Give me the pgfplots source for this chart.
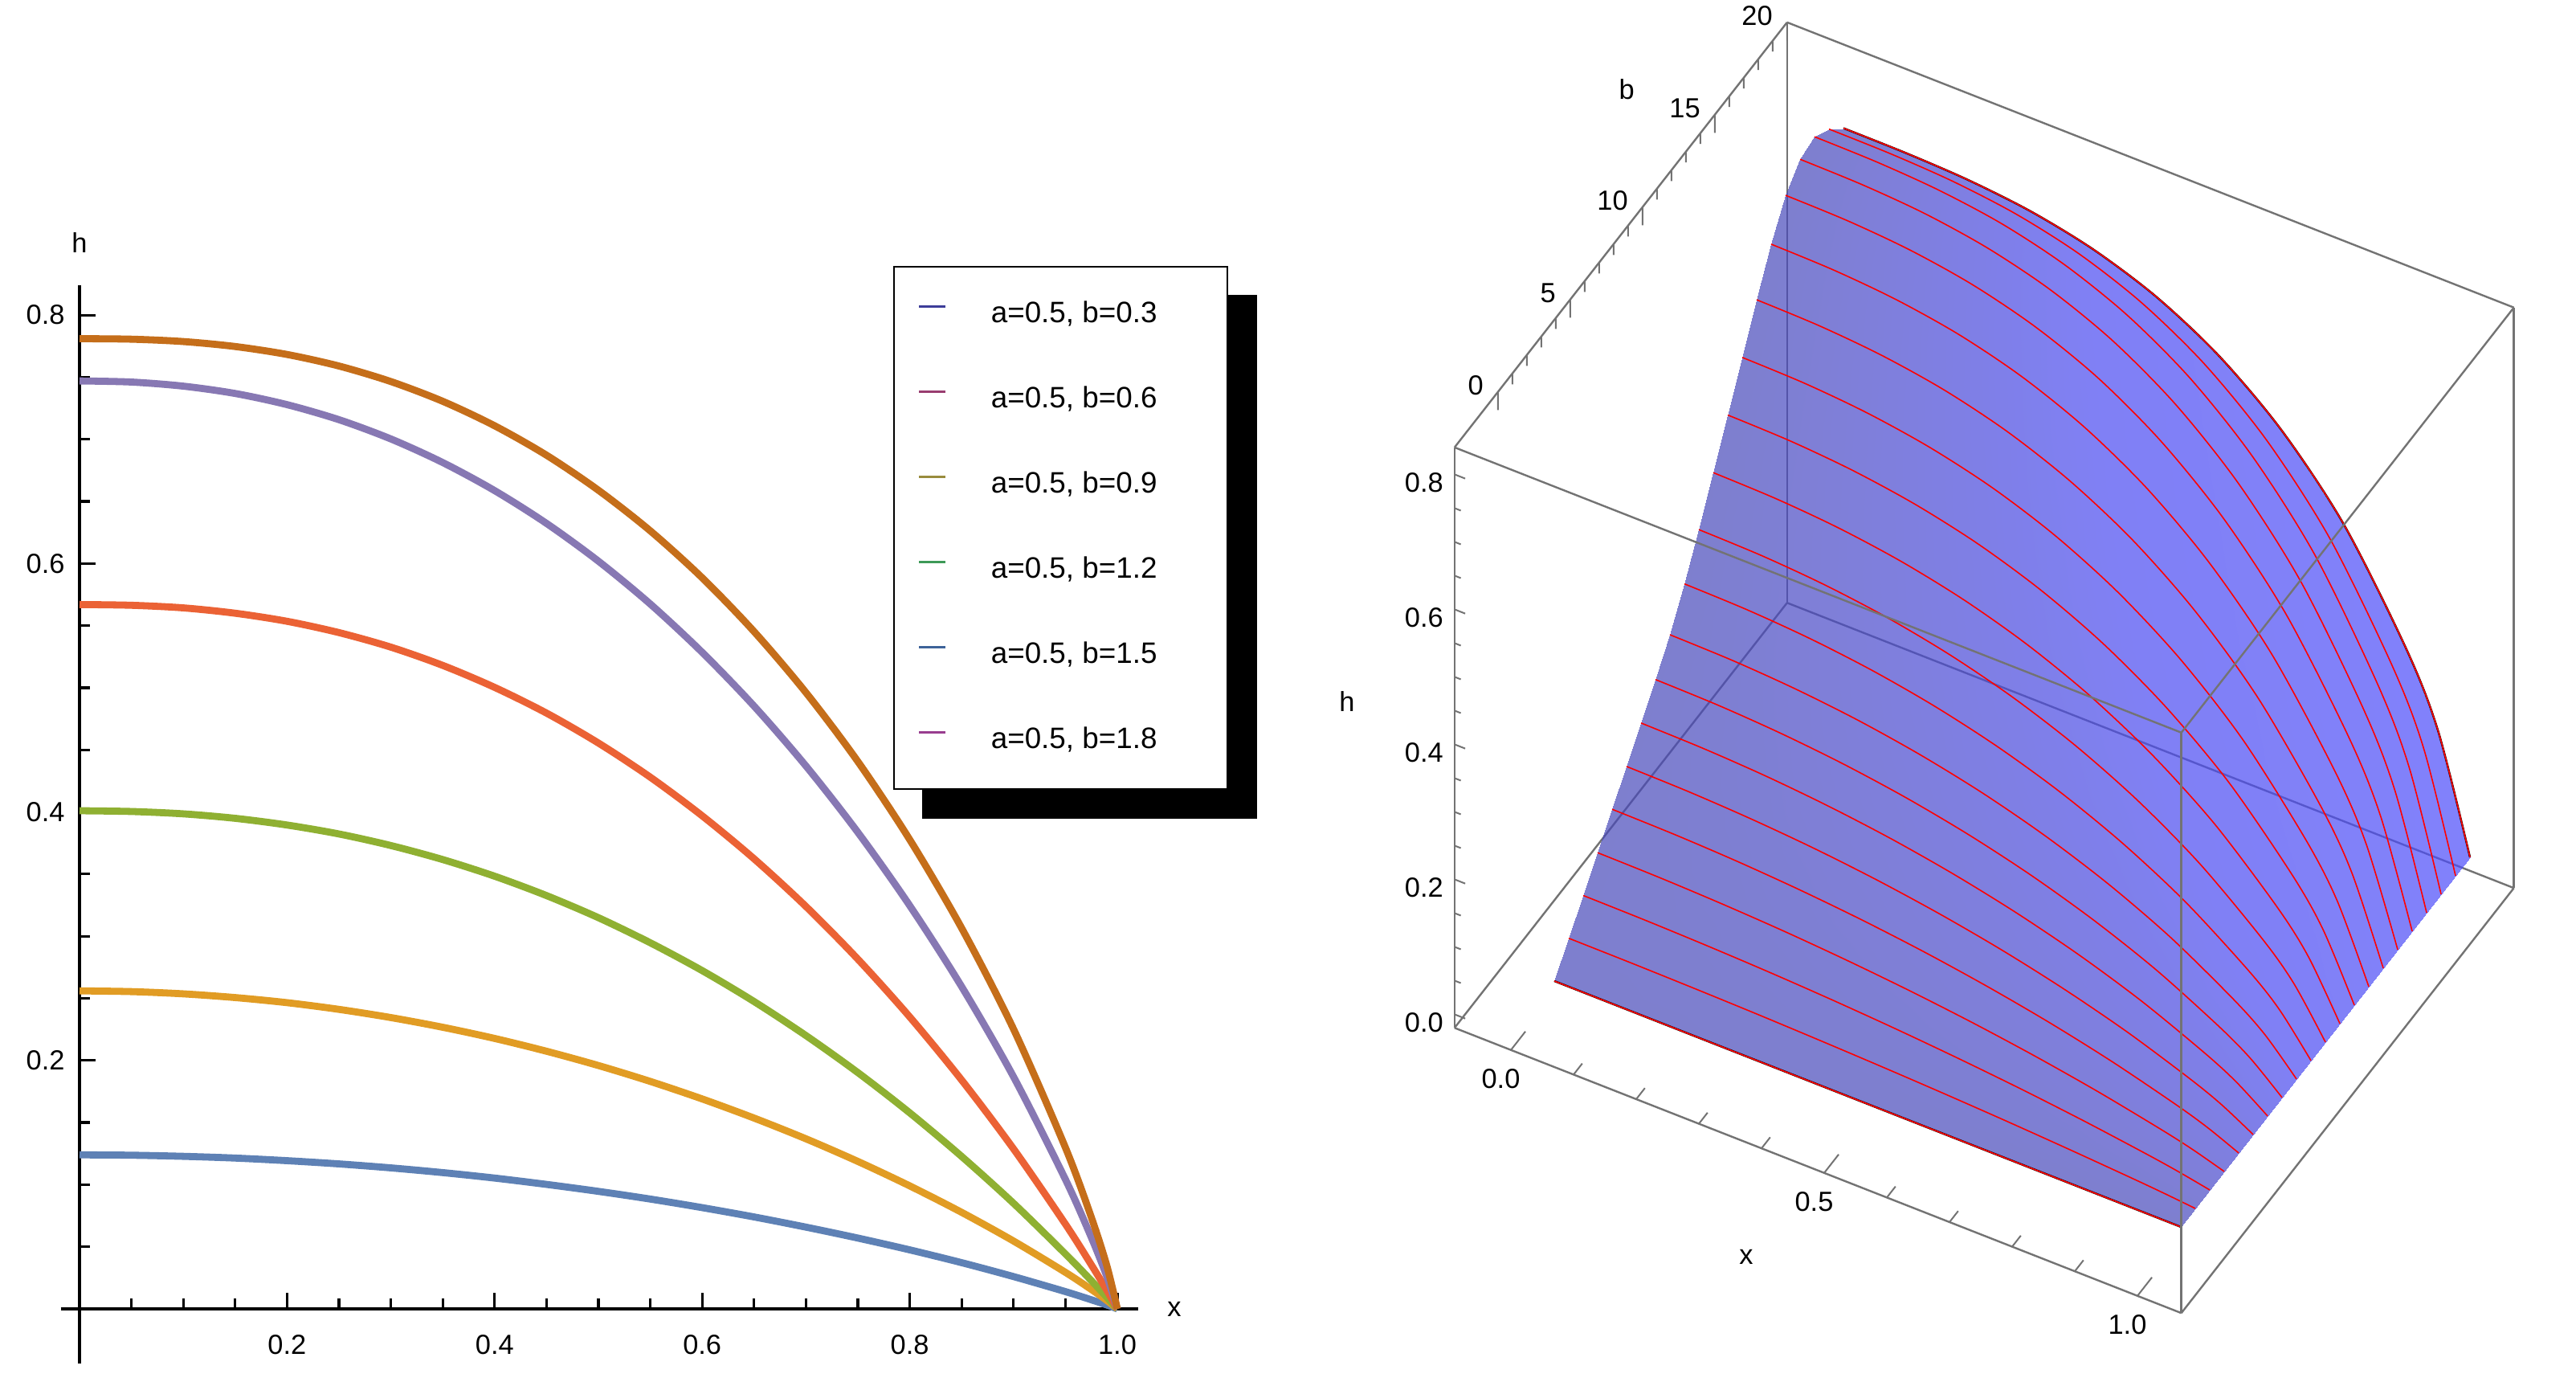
\documentclass[border=0pt]{standalone}
\usepackage{fontspec}
\setmainfont{Liberation Sans}
\usepackage{pgfplots}
\pgfplotsset{compat=1.18}
\usepackage{pgfplotstable}
\pgfdeclarelayer{background}
\pgfsetlayers{background,main}

\definecolor{m1}{rgb}{0.368417,0.506779,0.709798}
\definecolor{m2}{rgb}{0.880722,0.611041,0.142051}
\definecolor{m3}{rgb}{0.560181,0.691569,0.194885}
\definecolor{m4}{rgb}{0.922526,0.385626,0.209179}
\definecolor{m5}{rgb}{0.528488,0.470624,0.701351}
\definecolor{m6}{rgb}{0.772079,0.431554,0.102387}
\definecolor{l1}{rgb}{0.24,0.24,0.6}
\definecolor{l2}{rgb}{0.6,0.24,0.44}
\definecolor{l3}{rgb}{0.6,0.55,0.24}
\definecolor{l4}{rgb}{0.24,0.6,0.34}
\definecolor{l5}{rgb}{0.24,0.39,0.6}
\definecolor{l6}{rgb}{0.6,0.24,0.56}
\definecolor{boxgray}{RGB}{115,115,115}

\newcommand{\tf}{\fontsize{8.6}{10}\selectfont}

% surface h(x,b): one block of x-values per b
\pgfplotstableread[row sep=\\]{
x b h\\
0 0 0\\ .1 0 0\\ .2 0 0\\ .3 0 0\\ .4 0 0\\ .5 0 0\\ .6 0 0\\ .7 0 0\\ .8 0 0\\ .9 0 0\\ .95 0 0\\ 1 0 0\\
0 1 .0360\\ .1 1 .0357\\ .2 1 .0347\\ .3 1 .0331\\ .4 1 .0307\\ .5 1 .0277\\ .6 1 .0240\\ .7 1 .0195\\ .8 1 .0141\\ .9 1 .0079\\ .95 1 .0043\\ 1 1 0\\
0 2 .0720\\ .1 2 .0714\\ .2 2 .0695\\ .3 2 .0664\\ .4 2 .0619\\ .5 2 .0560\\ .6 2 .0486\\ .7 2 .0397\\ .8 2 .0290\\ .9 2 .0163\\ .95 2 .0089\\ 1 2 0\\
0 3 .1080\\ .1 3 .1071\\ .2 3 .1044\\ .3 3 .0999\\ .4 3 .0933\\ .5 3 .0847\\ .6 3 .0739\\ .7 3 .0606\\ .8 3 .0446\\ .9 3 .0254\\ .95 3 .0141\\ 1 3 0\\
0 4 .1450\\ .1 4 .1439\\ .2 4 .1405\\ .3 4 .1346\\ .4 4 .1261\\ .5 4 .1148\\ .6 4 .1004\\ .7 4 .0828\\ .8 4 .0613\\ .9 4 .0352\\ .95 4 .0197\\ 1 4 0\\
0 5 .1810\\ .1 5 .1797\\ .2 5 .1756\\ .3 5 .1686\\ .4 5 .1583\\ .5 5 .1445\\ .6 5 .1270\\ .7 5 .1051\\ .8 5 .0784\\ .9 5 .0455\\ .95 5 .0257\\ 1 5 0\\
0 6 .2180\\ .1 6 .2165\\ .2 6 .2119\\ .3 6 .2037\\ .4 6 .1918\\ .5 6 .1756\\ .6 6 .1548\\ .7 6 .1288\\ .8 6 .0966\\ .9 6 .0566\\ .95 6 .0323\\ 1 6 0\\
0 7 .2550\\ .1 7 .2534\\ .2 7 .2482\\ .3 7 .2391\\ .4 7 .2256\\ .5 7 .2072\\ .6 7 .1833\\ .7 7 .1531\\ .8 7 .1156\\ .9 7 .0683\\ .95 7 .0393\\ 1 7 0\\
0 8 .2940\\ .1 8 .2923\\ .2 8 .2867\\ .3 8 .2767\\ .4 8 .2616\\ .5 8 .2410\\ .6 8 .2139\\ .7 8 .1795\\ .8 8 .1362\\ .9 8 .0812\\ .95 8 .0471\\ 1 8 0\\
0 9 .3420\\ .1 9 .3401\\ .2 9 .3340\\ .3 9 .3229\\ .4 9 .3061\\ .5 9 .2828\\ .6 9 .2519\\ .7 9 .2122\\ .8 9 .1619\\ .9 9 .0973\\ .95 9 .0568\\ 1 9 0\\
0 10 .3950\\ .1 10 .3930\\ .2 10 .3864\\ .3 10 .3743\\ .4 10 .3556\\ .5 10 .3294\\ .6 10 .2944\\ .7 10 .2490\\ .8 10 .1909\\ .9 10 .1157\\ .95 10 .0680\\ 1 10 0\\
0 11 .4520\\ .1 11 .4499\\ .2 11 .4429\\ .3 11 .4297\\ .4 11 .4092\\ .5 11 .3801\\ .6 11 .3409\\ .7 11 .2894\\ .8 11 .2230\\ .9 11 .1361\\ .95 11 .0805\\ 1 11 0\\
0 12 .5100\\ .1 12 .5079\\ .2 12 .5005\\ .3 12 .4865\\ .4 12 .4644\\ .5 12 .4325\\ .6 12 .3891\\ .7 12 .3316\\ .8 12 .2568\\ .9 12 .1577\\ .95 12 .0939\\ 1 12 0\\
0 13 .5680\\ .1 13 .5659\\ .2 13 .5583\\ .3 13 .5436\\ .4 13 .5201\\ .5 13 .4857\\ .6 13 .4383\\ .7 13 .3750\\ .8 13 .2917\\ .9 13 .1804\\ .95 13 .1080\\ 1 13 0\\
0 14 .6260\\ .1 14 .6239\\ .2 14 .6163\\ .3 14 .6012\\ .4 14 .5764\\ .5 14 .5397\\ .6 14 .4886\\ .7 14 .4195\\ .8 14 .3278\\ .9 14 .2040\\ .95 14 .1228\\ 1 14 0\\
0 15 .6810\\ .1 15 .6790\\ .2 15 .6715\\ .3 15 .6562\\ .4 15 .6305\\ .5 15 .5920\\ .6 15 .5375\\ .7 15 .4631\\ .8 15 .3634\\ .9 15 .2276\\ .95 15 .1376\\ 1 15 0\\
0 16 .7260\\ .1 16 .7243\\ .2 16 .7171\\ .3 16 .7019\\ .4 16 .6759\\ .5 16 .6364\\ .6 16 .5793\\ .7 16 .5009\\ .8 16 .3947\\ .9 16 .2487\\ .95 16 .1511\\ 1 16 0\\
0 17 .7520\\ .1 17 .7505\\ .2 17 .7440\\ .3 17 .7294\\ .4 17 .7040\\ .5 17 .6644\\ .6 17 .6067\\ .7 17 .5263\\ .8 17 .4164\\ .9 17 .2637\\ .95 17 .1610\\ 1 17 0\\
0 18 .7580\\ .1 18 .7568\\ .2 18 .7510\\ .3 18 .7378\\ .4 18 .7135\\ .5 18 .6750\\ .6 18 .6182\\ .7 18 .5380\\ .8 18 .4274\\ .9 18 .2721\\ .95 18 .1668\\ 1 18 0\\
0 19 .7420\\ .1 19 .7412\\ .2 19 .7364\\ .3 19 .7246\\ .4 19 .7023\\ .5 19 .6660\\ .6 19 .6117\\ .7 19 .5341\\ .8 19 .4258\\ .9 19 .2725\\ .95 19 .1678\\ 1 19 0\\
0 20 .7160\\ .1 20 .7155\\ .2 20 .7117\\ .3 20 .7015\\ .4 20 .6813\\ .5 20 .6478\\ .6 20 .5966\\ .7 20 .5225\\ .8 20 .4181\\ .9 20 .2689\\ .95 20 .1662\\ 1 20 0\\
}\surf

% tick marks of the 3D box (segments separated by nan)
\pgfplotstableread[row sep=\\]{
x b h\\
0 -3 -.02\\ 0 -2 -.02\\ nan nan nan\\
.1 -3 -.02\\ .1 -2.4 -.02\\ nan nan nan\\
.2 -3 -.02\\ .2 -2.4 -.02\\ nan nan nan\\
.3 -3 -.02\\ .3 -2.4 -.02\\ nan nan nan\\
.4 -3 -.02\\ .4 -2.4 -.02\\ nan nan nan\\
.5 -3 -.02\\ .5 -2 -.02\\ nan nan nan\\
.6 -3 -.02\\ .6 -2.4 -.02\\ nan nan nan\\
.7 -3 -.02\\ .7 -2.4 -.02\\ nan nan nan\\
.8 -3 -.02\\ .8 -2.4 -.02\\ nan nan nan\\
.9 -3 -.02\\ .9 -2.4 -.02\\ nan nan nan\\
1 -3 -.02\\ 1 -2 -.02\\ nan nan nan\\
-.09 -3 0\\ -.073 -3 0\\ nan nan nan\\
-.09 -3 .05\\ -.08 -3 .05\\ nan nan nan\\
-.09 -3 .1\\ -.08 -3 .1\\ nan nan nan\\
-.09 -3 .15\\ -.08 -3 .15\\ nan nan nan\\
-.09 -3 .2\\ -.073 -3 .2\\ nan nan nan\\
-.09 -3 .25\\ -.08 -3 .25\\ nan nan nan\\
-.09 -3 .3\\ -.08 -3 .3\\ nan nan nan\\
-.09 -3 .35\\ -.08 -3 .35\\ nan nan nan\\
-.09 -3 .4\\ -.073 -3 .4\\ nan nan nan\\
-.09 -3 .45\\ -.08 -3 .45\\ nan nan nan\\
-.09 -3 .5\\ -.08 -3 .5\\ nan nan nan\\
-.09 -3 .55\\ -.08 -3 .55\\ nan nan nan\\
-.09 -3 .6\\ -.073 -3 .6\\ nan nan nan\\
-.09 -3 .65\\ -.08 -3 .65\\ nan nan nan\\
-.09 -3 .7\\ -.08 -3 .7\\ nan nan nan\\
-.09 -3 .75\\ -.08 -3 .75\\ nan nan nan\\
-.09 -3 .8\\ -.073 -3 .8\\ nan nan nan\\
-.09 0 .84\\ -.09 0 .813\\ nan nan nan\\
-.09 1 .84\\ -.09 1 .824\\ nan nan nan\\
-.09 2 .84\\ -.09 2 .824\\ nan nan nan\\
-.09 3 .84\\ -.09 3 .824\\ nan nan nan\\
-.09 4 .84\\ -.09 4 .824\\ nan nan nan\\
-.09 5 .84\\ -.09 5 .813\\ nan nan nan\\
-.09 6 .84\\ -.09 6 .824\\ nan nan nan\\
-.09 7 .84\\ -.09 7 .824\\ nan nan nan\\
-.09 8 .84\\ -.09 8 .824\\ nan nan nan\\
-.09 9 .84\\ -.09 9 .824\\ nan nan nan\\
-.09 10 .84\\ -.09 10 .813\\ nan nan nan\\
-.09 11 .84\\ -.09 11 .824\\ nan nan nan\\
-.09 12 .84\\ -.09 12 .824\\ nan nan nan\\
-.09 13 .84\\ -.09 13 .824\\ nan nan nan\\
-.09 14 .84\\ -.09 14 .824\\ nan nan nan\\
-.09 15 .84\\ -.09 15 .813\\ nan nan nan\\
-.09 16 .84\\ -.09 16 .824\\ nan nan nan\\
-.09 17 .84\\ -.09 17 .824\\ nan nan nan\\
-.09 18 .84\\ -.09 18 .824\\ nan nan nan\\
-.09 19 .84\\ -.09 19 .824\\ nan nan nan\\
-.09 20 .84\\ -.09 20 .813\\
}\boxticks

\pgfplotstableread{
x     c1     c2     c3     c4     c5     c6
0     .1240  .2560  .4010  .5670  .7470  .7810
0.05  .1237  .2554  .4004  .5664  .7461  .7806
0.1   .1228  .2536  .3985  .5643  .7428  .7787
0.15  .1214  .2506  .3949  .5600  .7369  .7747
0.2   .1193  .2465  .3895  .5535  .7279  .7683
0.25  .1167  .2411  .3823  .5444  .7158  .7590
0.3   .1135  .2345  .3730  .5327  .7003  .7465
0.35  .1097  .2267  .3617  .5180  .6813  .7306
0.4   .1053  .2177  .3483  .5003  .6587  .7109
0.45  .1002  .2074  .3327  .4796  .6323  .6872
0.5   .0946  .1959  .3149  .4555  .6019  .6590
0.55  .0884  .1831  .2947  .4280  .5674  .6263
0.6   .0815  .1690  .2723  .3969  .5285  .5885
0.65  .0740  .1536  .2474  .3623  .4852  .5452
0.7   .0658  .1369  .2200  .3239  .4370  .4961
0.75  .0570  .1187  .1902  .2815  .3836  .4406
0.8   .0475  .0990  .1578  .2350  .3246  .3777
0.85  .0372  .0777  .1227  .1842  .2594  .3065
0.9   .0260  .0546  .0850  .1288  .1868  .2252
0.95  .0139  .0294  .0442  .0682  .1042  .1298
0.975 .0073  .0156  .0227  .0354  .0574  .0736
0.99  .0031  .0067  .0093  .0148  .0258  .0344
1     0      0      0      0      0      0
}\curves

\begin{document}
\begin{tikzpicture}
\useasboundingbox (0,0) rectangle (801.75pt,430pt);
% ---------------- left 2D plot ----------------
\begin{axis}[
  at={(24.75pt,22.75pt)}, anchor=origin,
  x=323pt, y=386.5pt,
  xmin=-0.018, xmax=1.02, ymin=-0.044, ymax=0.824,
  axis lines=middle,
  axis line style={-, line width=0.8pt, black},
  every inner x axis line/.append style={-},
  every inner y axis line/.append style={-},
  xtick={0.2,0.4,0.6,0.8,1.0}, xticklabels={0.2,0.4,0.6,0.8,1.0},
  ytick={0.2,0.4,0.6,0.8}, yticklabels={0.2,0.4,0.6,0.8},
  minor xtick={0.05,0.1,0.15,0.25,0.3,0.35,0.45,0.5,0.55,0.65,0.7,0.75,0.85,0.9,0.95},
  minor ytick={0.05,0.1,0.15,0.25,0.3,0.35,0.45,0.5,0.55,0.65,0.7,0.75},
  tick align=inside,
  major tick length=5pt, minor tick length=3.2pt,
  tick style={line width=0.8pt, black},
  /pgf/number format/assume math mode=true,
  tick label style={font=\tf},
  xticklabel style={yshift=-4.5pt},
  yticklabel style={xshift=-1.1pt},
  xlabel={x}, ylabel={h},
  xlabel style={at={(axis description cs:1.0337,0.0507)}, anchor=center, font=\tf},
  ylabel style={at={(axis description cs:0.0173,1.0392)}, anchor=center, font=\tf},
  clip=false,
  legend style={name=leg, at={(0.7727,1.018)}, anchor=north west, draw=black, line width=0.5pt,
    fill=white, inner xsep=7.4pt, inner ysep=10.5pt, row sep=17.5pt,
    font=\fontsize{9.2}{11}\selectfont,
    nodes={inner sep=0pt, text height=7pt, text depth=2pt, anchor=west},
    /tikz/every odd column/.append style={column sep=13.8pt}},
  legend image code/.code={\draw[#1, line width=0.7pt] (0pt,2.6pt) -- (8.3pt,2.6pt);},
  legend cell align=left,
]
\addplot[m1, line width=2.2pt, smooth, forget plot] table[x=x, y=c1] {\curves};
\addplot[m2, line width=2.2pt, smooth, forget plot] table[x=x, y=c2] {\curves};
\addplot[m3, line width=2.2pt, smooth, forget plot] table[x=x, y=c3] {\curves};
\addplot[m4, line width=2.2pt, smooth, forget plot] table[x=x, y=c4] {\curves};
\addplot[m5, line width=2.2pt, smooth, forget plot] table[x=x, y=c5] {\curves};
\addplot[m6, line width=2.2pt, smooth, forget plot] table[x=x, y=c6] {\curves};
\addlegendimage{l1}\addlegendentry{a=0.5, b=0.3\hspace*{14.4pt}}
\addlegendimage{l2}\addlegendentry{a=0.5, b=0.6\hspace*{14.4pt}}
\addlegendimage{l3}\addlegendentry{a=0.5, b=0.9\hspace*{14.4pt}}
\addlegendimage{l4}\addlegendentry{a=0.5, b=1.2\hspace*{14.4pt}}
\addlegendimage{l5}\addlegendentry{a=0.5, b=1.5\hspace*{14.4pt}}
\addlegendimage{l6}\addlegendentry{a=0.5, b=1.8\hspace*{14.4pt}}
\end{axis}
\begin{pgfonlayer}{background}
\fill[black] ([xshift=9pt,yshift=-9pt]leg.south west) rectangle ([xshift=9pt,yshift=-9pt]leg.north east);
\end{pgfonlayer}
% ---------------- right 3D plot ----------------
\begin{axis}[
  at={(483.75pt,124.75pt)}, anchor=origin,
  x={(195pt,-76.5pt)}, y={(4.5pt,5.75pt)}, z={(0pt,210pt)},
  xmin=-0.09, xmax=1.07, ymin=-3, ymax=20, zmin=-0.02, zmax=0.84,
  3d box=complete*,
  axis line style={boxgray, line width=0.6pt},
  xtick={0,0.5,1}, xticklabels={0.0,0.5,1.0},
  ytick={0,5,10,15,20}, yticklabels={0,5,10,15,20},
  ztick={0,0.2,0.4,0.6,0.8}, zticklabels={0.0,0.2,0.4,0.6,0.8},
  xtick pos=left, ytick pos=right, ztick pos=left,
  tick style={draw=none},
  /pgf/number format/assume math mode=true,
  tick label style={font=\tf},
  yticklabel style={anchor=east, xshift=-1pt, yshift=2pt},
  xlabel={x}, ylabel={b}, zlabel={h},
  xlabel style={at={(axis cs:0.3756,-3,-0.19)}, anchor=center, font=\tf},
  ylabel style={at={(axis cs:-0.05,7.17,1.106)}, anchor=center, font=\tf},
  zlabel style={at={(axis cs:-0.2615,-3,0.401)}, anchor=center, rotate=-90, font=\tf},
  colormap={surfblue}{rgb255(0cm)=(71,72,185) rgb255(8cm)=(74,74,241) rgb255(20cm)=(76,76,251)},
  clip=false,
]
\addplot3[surf, shader=interp, fill opacity=0.7, mesh/rows=21, mesh/cols=12,
  point meta={\thisrow{x}*\thisrow{b}}] table[x=x, y=b, z=h] {\surf};
\pgfplotsinvokeforeach{1,...,19}{
  \addplot3[red, line width=0.4pt, smooth, restrict y to domain=#1:#1] table[x=x, y=b, z=h] {\surf};
}
\addplot3[black, line width=0.7pt, smooth, restrict x to domain=0:0] table[x=x, y=b, z=h] {\surf};
\addplot3[black, line width=0.6pt, restrict x to domain=1:1] table[x=x, y=b, z=h] {\surf};
\addplot3[black, line width=0.6pt, smooth, restrict y to domain=20:20] table[x=x, y=b, z=h] {\surf};
\addplot3[black, line width=0.6pt, restrict y to domain=0:0] table[x=x, y=b, z=h] {\surf};
\addplot3[red, line width=0.4pt, restrict y to domain=0:0] table[x=x, y=b, z=h] {\surf};
\addplot3[red, line width=0.4pt, smooth, restrict y to domain=20:20] table[x=x, y=b, z=h] {\surf};
\addplot3[boxgray, line width=0.5pt, unbounded coords=jump] table[x=x, y=b, z=h] {\boxticks};
\end{axis}
\end{tikzpicture}
\end{document}
